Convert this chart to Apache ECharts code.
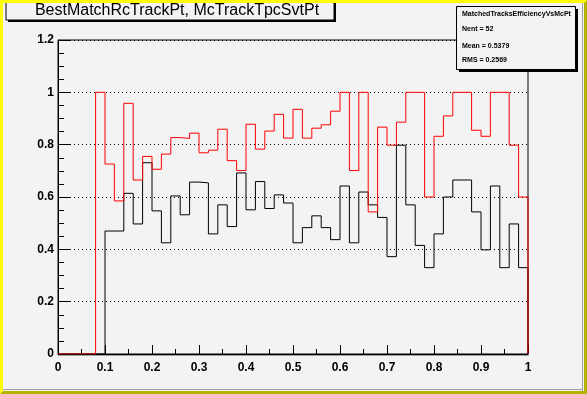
<!DOCTYPE html>
<html>
<head>
<meta charset="utf-8">
<script src="https://cdn.jsdelivr.net/npm/echarts@6/dist/echarts.min.js"></script>
<style>
html,body{margin:0;padding:0;background:#f3f3f3;}
#chart{width:587px;height:394px;}
</style>
</head>
<body>
<div id="chart"></div>
<script>
// Histogram bins: 50 bins of width 0.02 from 0 to 1 (left edges)
const binWidth = 0.02;
const nBins = 50;
const redValues = [
  0, 0, 0, 0, 1.0, 0.726, 0.585, 0.958, 0.665, 0.755,
  0.706, 0.764, 0.827, 0.824, 0.844, 0.769, 0.779, 0.859, 0.739, 0.701,
  0.878, 0.783, 0.852, 0.916, 0.825, 0.935, 0.825, 0.863, 0.876, 0.928,
  1.0, 0.701, 1.0, 0.543, 0.867, 0.798, 0.886, 1.0, 1.0, 0.600,
  0.832, 0.910, 1.0, 1.0, 0.855, 0.832, 1.0, 1.0, 0.798, 0.600
];
const blackValues = [
  0, 0, 0, 0, 0, 0.470, 0.470, 0.614, 0.497, 0.731,
  0.547, 0.425, 0.604, 0.532, 0.657, 0.654, 0.459, 0.570, 0.487, 0.692,
  0.551, 0.659, 0.556, 0.608, 0.577, 0.425, 0.483, 0.528, 0.483, 0.437,
  0.642, 0.425, 0.619, 0.570, 0.522, 0.372, 0.798, 0.570, 0.415, 0.330,
  0.459, 0.600, 0.665, 0.665, 0.543, 0.398, 0.642, 0.330, 0.497, 0.330
];
const titleText = 'BestMatchRcTrackPt, McTrackTpcSvtPt';
const statsLines = ['MatchedTracksEfficiencyVsMcPt', 'Nent = 52', 'Mean = 0.5379', 'RMS = 0.2569'];

function stepData(vals){
  const d = [];
  for (let i = 0; i < vals.length; i++) d.push([+(i*binWidth).toFixed(2), vals[i]]);
  d.push([1, 0]);
  return d;
}

const chart = echarts.init(document.getElementById('chart'), null, {renderer:'canvas'});
const labelFont = {color:'#000', fontFamily:'Liberation Sans', fontWeight:'bold', fontSize:12};

const statsGraphics = [];
statsLines.forEach((t, i) => {
  statsGraphics.push({type:'text', left:462, top:[11,26,43,57][i], z:102,
    style:{text:t, fill:'#000', font:'bold 7px "Liberation Sans"'}});
});

chart.setOption({
  animation:false,
  backgroundColor:'#f3f3f3',
  grid:{left:58, right:59, top:40, bottom:40, show:true, borderColor:'#000', borderWidth:1, backgroundColor:'transparent'},
  xAxis:{type:'value', min:0, max:1, interval:0.1,
    axisLine:{show:true, lineStyle:{color:'#000', width:1}},
    axisTick:{show:true, inside:true, length:9, lineStyle:{color:'#000'}},
    minorTick:{show:true, splitNumber:2, length:5, lineStyle:{color:'#000'}},
    splitLine:{show:false},
    axisLabel:Object.assign({margin:8, showMinLabel:true, showMaxLabel:true}, labelFont)
  },
  yAxis:{type:'value', min:0, max:1.2, interval:0.2,
    axisLine:{show:true, lineStyle:{color:'#000', width:1}},
    axisTick:{show:true, inside:true, length:12, lineStyle:{color:'#000'}},
    minorTick:{show:true, splitNumber:4, length:6, lineStyle:{color:'#000'}},
    splitLine:{show:true, lineStyle:{color:'#000', width:1, type:[1,3]}},
    axisLabel:Object.assign({margin:4}, labelFont)
  },
  series:[
    {type:'line', step:'end', symbol:'none', data:stepData(blackValues), z:2,
      lineStyle:{color:'#000', width:1}},
    {type:'line', step:'end', symbol:'none', data:stepData(redValues), z:3,
      lineStyle:{color:'#ff0000', width:1}}
  ],
  graphic:[
    // bottom axis shadow
    {type:'rect', shape:{x:58, y:355, width:471, height:1}, style:{fill:'#a0a0a0'}, z:1},
    // title box shadow + box
    {type:'rect', shape:{x:8, y:2, width:328, height:20}, style:{fill:'#000'}, z:100},
    {type:'rect', shape:{x:6, y:0, width:328, height:20}, style:{fill:'#f3f3f3', stroke:'#000', lineWidth:1}, z:101},
    {type:'text', x:177, y:11, z:102, style:{text:titleText, fill:'#000', font:'16px "Liberation Sans"', textAlign:'center', textVerticalAlign:'middle'}},
    // stats box shadow + box
    {type:'rect', shape:{x:459, y:9, width:119, height:63}, style:{fill:'#000'}, z:100},
    {type:'rect', shape:{x:456.5, y:6.5, width:119, height:63}, style:{fill:'#f3f3f3', stroke:'#000', lineWidth:1}, z:101},
    ...statsGraphics,
    // canvas bevel border
    {type:'rect', shape:{x:582, y:3, width:1, height:388}, style:{fill:'#a0a0a0'}, z:110},
    {type:'rect', shape:{x:3, y:389, width:580, height:1}, style:{fill:'#a0a0a0'}, z:110},
    {type:'polygon', shape:{points:[[0,0],[587,0],[584,3],[3,3],[3,391],[0,394]]}, style:{fill:'#ffff00'}, z:111},
    {type:'polygon', shape:{points:[[587,0],[587,394],[0,394],[3,391],[584,391],[584,3]]}, style:{fill:'#b4b400'}, z:111}
  ]
});
</script>
</body>
</html>
